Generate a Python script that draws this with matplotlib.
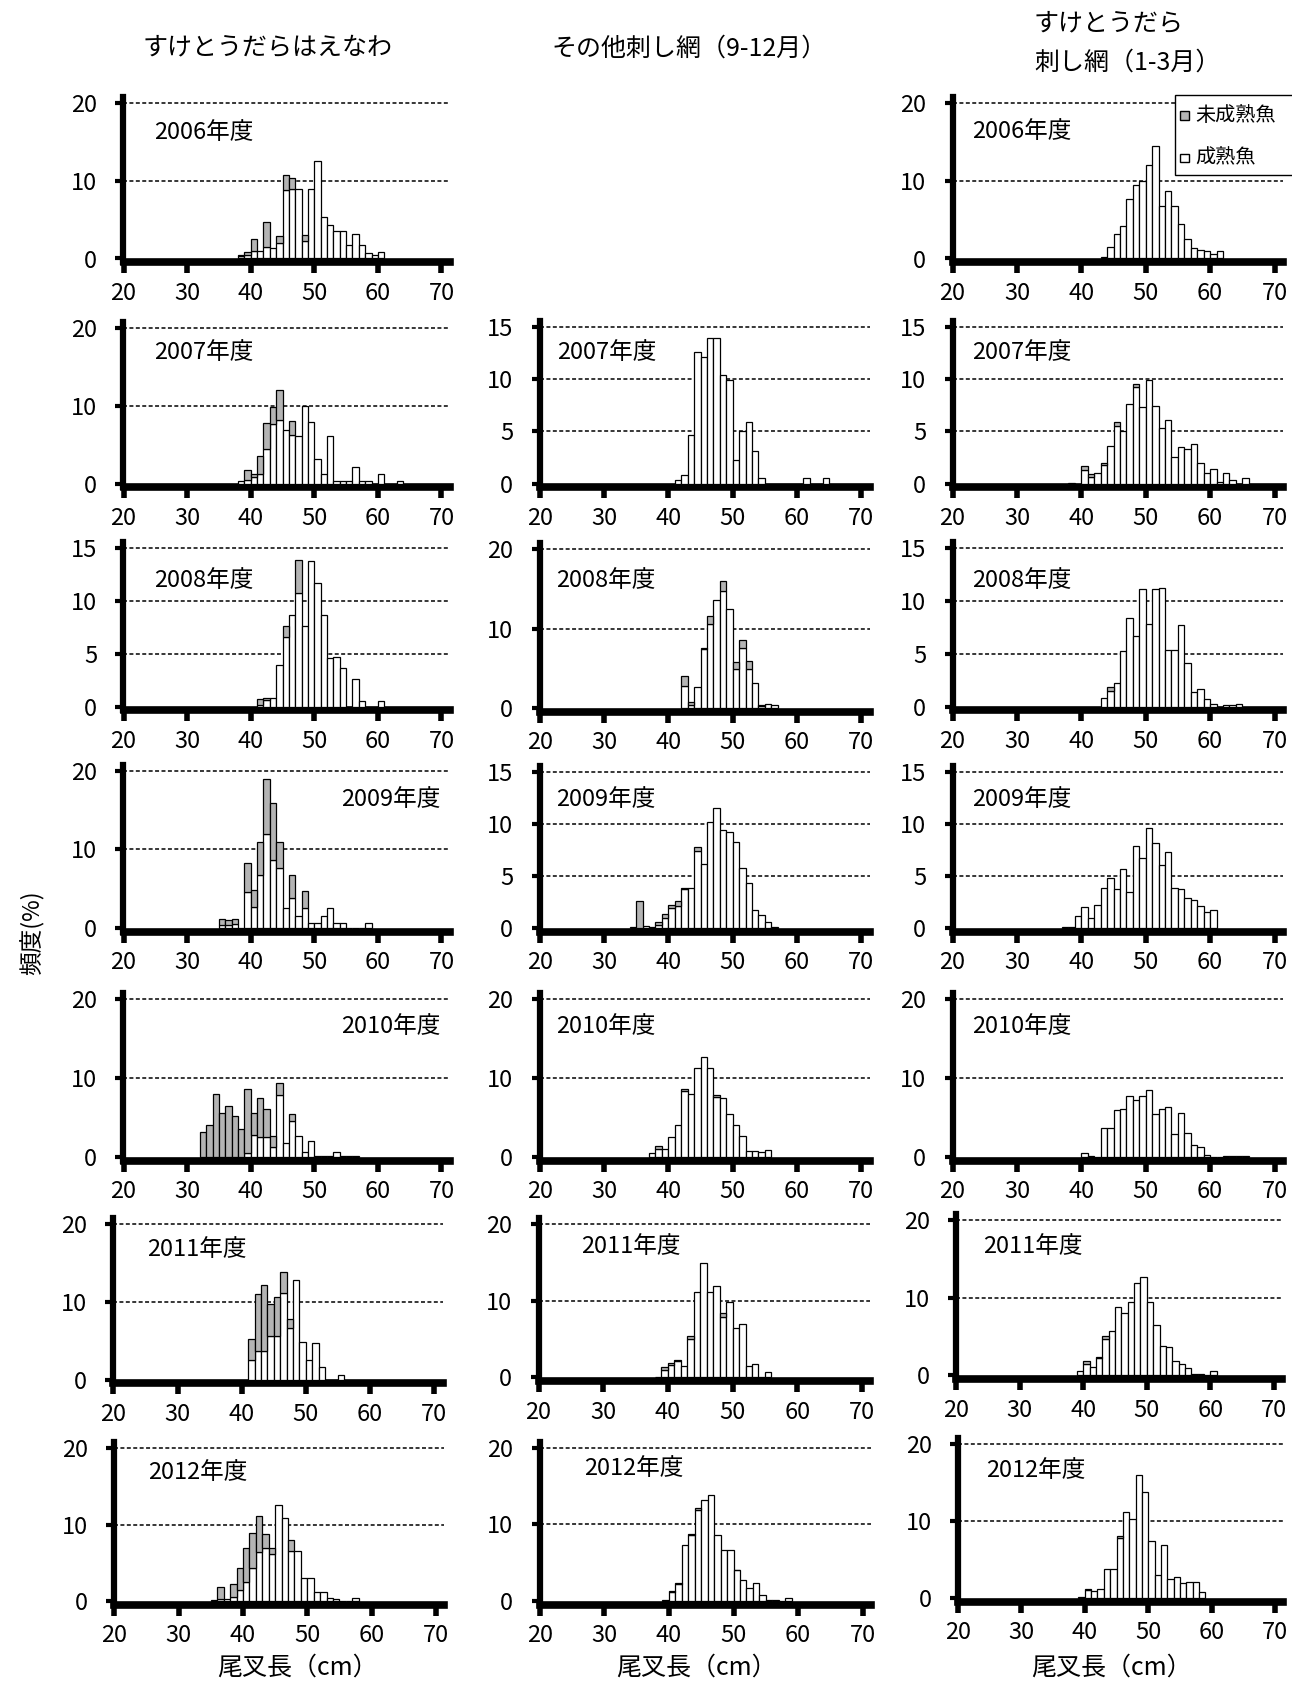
import numpy as np
import matplotlib
matplotlib.use('Agg')
import matplotlib.pyplot as plt
from matplotlib.patches import Rectangle

plt.rcParams['font.family'] = ['Noto Sans CJK JP', 'DejaVu Sans']

# ---------------- DATA (frequency %, 1-cm bins; first bin = *_start) ----------------
x_ticks = [20, 30, 40, 50, 60, 70]
col_titles = ['すけとうだらはえなわ', 'その他刺し網（9-12月）', 'すけとうだら', '刺し網（1-3月）']
x_label = '尾叉長（cm）'
y_label = '頻度(%)'
legend_labels = ['未成熟魚', '成熟魚']

# Column 1: すけとうだらはえなわ
hn2006_start = 38
hn2006_mature = [0.3, 0.5, 1.0, 1.0, 1.5, 1.3, 2.0, 8.8, 8.9, 8.9, 2.3, 8.9, 12.6, 5.3, 4.3, 3.6, 3.6, 1.7, 3.2, 1.7, 0.7, 0.4, 0.9]
hn2006_immature = [0.2, 0.3, 1.5, 0.0, 3.2, 0.0, 0.9, 1.9, 1.5, 0.0, 0.7]

hn2007_start = 38
hn2007_mature = [0.3, 0.5, 0.8, 1.2, 4.5, 7.7, 8.2, 6.9, 6.2, 6.1, 10.0, 7.9, 3.2, 1.3, 6.1, 0.3, 0.3, 0.3, 2.2, 0.3, 0.3, 0.0, 1.3, 0.0, 0.0, 0.4]
hn2007_immature = [0.0, 1.3, 0.5, 2.3, 3.3, 2.1, 3.8, 0.0, 1.8]

hn2008_start = 41
hn2008_mature = [0.2, 0.6, 0.85, 3.9, 6.6, 8.7, 10.8, 7.6, 13.8, 11.7, 8.7, 4.6, 4.7, 3.7, 0.0, 2.6, 0.5, 0.0, 0.0, 0.5]
hn2008_immature = [0.5, 0.2, 0.0, 0.0, 1.0, 0.0, 3.1]

hn2009_start = 35
hn2009_mature = [0.4, 0.4, 0.5, 0.0, 4.6, 2.7, 6.7, 11.9, 8.7, 7.7, 2.6, 3.8, 1.6, 2.6, 0.65, 0.65, 1.6, 2.6, 0.65, 0.65, 0.0, 0.0, 0.0, 0.65]
hn2009_immature = [0.8, 0.6, 0.7, 0.0, 3.7, 2.2, 4.2, 7.1, 7.2, 3.2, 0.0, 3.0, 0.0, 2.1]

hn2010_start = 32
hn2010_mature = [0.0, 0.0, 0.0, 0.0, 0.0, 0.0, 0.0, 0.5, 2.8, 2.5, 2.5, 1.3, 7.8, 1.8, 4.6, 2.6, 0.6, 2.0, 0.1, 0.1, 0.1, 0.6, 0.1, 0.1, 0.1]
hn2010_immature = [3.2, 4.0, 8.0, 5.6, 6.4, 5.2, 3.6, 8.1, 2.8, 4.9, 3.6, 1.3, 1.6, 0.0, 0.8]

hn2011_start = 41
hn2011_mature = [2.5, 3.7, 3.7, 5.6, 5.6, 11.1, 6.7, 12.8, 4.8, 2.5, 4.7, 1.6, 0.0, 0.0, 0.6]
hn2011_immature = [2.7, 7.3, 8.5, 4.2, 5.1, 2.7, 1.1]

hn2012_start = 35
hn2012_mature = [0.2, 0.3, 0.3, 0.5, 1.5, 2.5, 4.3, 6.4, 7.0, 6.2, 12.6, 10.8, 6.6, 6.5, 3.0, 3.0, 1.2, 1.2, 0.4, 0.3, 0.0, 0.0, 0.4]
hn2012_immature = [0.0, 1.5, 0.0, 1.8, 2.8, 4.4, 4.6, 4.7, 1.8, 0.8, 0.0, 0.0, 1.4]

# Column 2: その他刺し網（9-12月）
om2007_start = 41
om2007_mature = [0.4, 0.8, 4.7, 12.6, 12.1, 13.9, 13.9, 10.4, 9.9, 2.3, 5.0, 5.9, 3.1, 0.5, 0.0, 0.0, 0.0, 0.0, 0.0, 0.0, 0.5, 0.0, 0.0, 0.5]
om2007_immature = []

om2008_start = 42
om2008_mature = [2.8, 0.3, 2.6, 7.4, 10.6, 13.6, 14.7, 12.5, 4.9, 7.6, 4.9, 3.1, 0.2, 0.5, 0.3]
om2008_immature = [1.2, 0.4, 0.0, 0.2, 1.0, 0.0, 1.3, 0.0, 0.9, 1.0, 1.0, 0.0, 0.2]

om2009_start = 34
om2009_mature = [0.15, 0.0, 0.2, 0.15, 0.3, 1.0, 1.9, 2.1, 3.8, 3.9, 7.4, 6.2, 10.2, 11.5, 9.4, 9.2, 8.3, 5.8, 4.3, 1.7, 1.3, 0.6, 0.1]
om2009_immature = [0.0, 2.6, 0.0, 0.0, 0.3, 0.4, 0.3, 0.5, 0.1, 0.0, 0.4]

om2010_start = 37
om2010_mature = [0.5, 1.0, 1.05, 2.5, 4.1, 8.4, 7.9, 11.2, 12.6, 11.3, 7.6, 7.4, 5.4, 4.1, 2.7, 0.8, 0.8, 0.6, 0.85]
om2010_immature = [0.0, 0.35, 0.0, 0.0, 0.0, 0.2, 0.0, 0.0, 0.0, 0.0, 0.2]

om2011_start = 38
om2011_mature = [0.1, 1.0, 1.6, 2.1, 1.5, 5.0, 11.2, 15.0, 11.2, 11.9, 7.9, 9.9, 6.4, 7.0, 1.5, 1.8, 0.1, 0.7]
om2011_immature = [0.0, 0.3, 0.3, 0.2, 0.0, 0.4, 0.0, 0.0, 0.0, 0.0, 0.5]

om2012_start = 39
om2012_mature = [0.1, 1.2, 2.2, 7.3, 8.6, 11.9, 13.2, 13.8, 8.6, 6.7, 6.7, 4.0, 2.7, 1.7, 2.3, 0.8, 0.1, 0.1, 0.0, 0.35]
om2012_immature = [0.0, 0.15, 0.2, 0.0, 0.2, 0.2, 0.0, 0.0, 0.0, 0.0, 0.0, 0.1]

# Column 3: すけとうだら刺し網（1-3月）
sg2006_start = 43
sg2006_mature = [0.2, 1.5, 3.2, 4.2, 7.7, 9.5, 10.0, 12.1, 14.5, 6.8, 8.7, 6.7, 4.4, 2.5, 1.3, 1.1, 1.0, 0.6, 1.0]
sg2006_immature = []

sg2007_start = 38
sg2007_mature = [0.1, 0.0, 1.3, 0.6, 1.0, 1.8, 3.6, 5.5, 5.0, 7.6, 9.2, 7.3, 9.9, 7.4, 5.3, 6.1, 2.6, 3.5, 3.3, 3.8, 2.0, 1.0, 1.4, 0.2, 1.0, 0.4, 0.0, 0.55]
sg2007_immature = [0.0, 0.0, 0.4, 0.3, 0.0, 0.2, 0.0, 0.4, 0.0, 0.0, 0.3]

sg2008_start = 43
sg2008_mature = [0.8, 1.5, 2.2, 5.3, 8.4, 6.7, 11.1, 7.8, 11.1, 11.2, 5.4, 5.4, 7.7, 4.1, 1.4, 1.7, 0.7, 0.25, 0.0, 0.15, 0.15, 0.3]
sg2008_immature = [0.0, 0.4]

sg2009_start = 37
sg2009_mature = [0.1, 0.1, 1.2, 2.0, 1.0, 2.2, 3.9, 4.8, 3.8, 5.7, 3.5, 7.9, 6.7, 9.6, 8.2, 6.1, 7.3, 3.9, 3.8, 2.9, 2.7, 2.1, 1.6, 1.7]
sg2009_immature = []

sg2010_start = 40
sg2010_mature = [0.5, 0.1, 0.0, 3.7, 3.7, 5.9, 6.1, 7.7, 7.2, 7.7, 8.5, 5.4, 6.1, 6.3, 2.9, 5.6, 3.0, 1.5, 1.3, 0.3, 0.0, 0.0, 0.1, 0.1, 0.1, 0.15]
sg2010_immature = []

sg2011_start = 39
sg2011_mature = [0.5, 1.5, 1.1, 2.2, 4.7, 5.7, 8.8, 8.0, 9.5, 11.9, 12.6, 9.4, 6.5, 3.8, 3.6, 1.9, 1.4, 1.0, 0.2, 0.2, 0.0, 0.5]
sg2011_immature = [0.0, 0.3, 0.0, 0.2, 0.3]

sg2012_start = 39
sg2012_mature = [0.15, 1.0, 0.9, 1.1, 3.8, 3.8, 7.7, 11.1, 10.2, 15.9, 13.7, 7.4, 3.0, 6.9, 2.4, 2.7, 1.9, 2.0, 2.0, 0.8]
sg2012_immature = [0.0, 0.1, 0.0, 0.0, 0.0, 0.0, 0.3]

# ---------------- LAYOUT ----------------
W, H = 1292, 1685
fig = plt.figure(figsize=(W / 100, H / 100), dpi=100)
fig.patch.set_facecolor('white')

GRAY = '#b4b4b4'
TICK_FS = 17
YEAR_FS = 17
T20, T15 = [0, 10, 20], [0, 5, 10, 15]

# (start, mature, immature, label, x20, x70, y0, ytop, yticks, (lx, ly, ha))
panels = [
    (hn2006_start, hn2006_mature, hn2006_immature, '2006年度', 123.5, 441.5, 262.3, 103.2, T20, (153.7, 132.2, 'left')),
    (hn2007_start, hn2007_mature, hn2007_immature, '2007年度', 123.5, 441.5, 487.5, 328.0, T20, (153.7, 352.6, 'left')),
    (hn2008_start, hn2008_mature, hn2008_immature, '2008年度', 123.5, 441.5, 710.5, 548.2, T15, (153.7, 580.4, 'left')),
    (hn2009_start, hn2009_mature, hn2009_immature, '2009年度', 123.5, 441.5, 932.0, 770.7, T20, (440.7, 799.7, 'right')),
    (hn2010_start, hn2010_mature, hn2010_immature, '2010年度', 123.5, 441.5, 1160.9, 998.6, T20, (440.7, 1026.5, 'right')),
    (hn2011_start, hn2011_mature, hn2011_immature, '2011年度', 113.3, 434.3, 1383.4, 1224.3, T20, (147.3, 1249.0, 'left')),
    (hn2012_start, hn2012_mature, hn2012_immature, '2012年度', 114.3, 436.0, 1605.0, 1447.9, T20, (148.3, 1472.6, 'left')),

    (om2007_start, om2007_mature, om2007_immature, '2007年度', 539.7, 861.3, 487.5, 326.8, T15, (556.8, 352.6, 'left')),
    (om2008_start, om2008_mature, om2008_immature, '2008年度', 539.7, 861.3, 711.6, 549.3, T20, (555.7, 580.4, 'left')),
    (om2009_start, om2009_mature, om2009_immature, '2009年度', 539.7, 861.3, 932.0, 771.8, T15, (555.7, 799.7, 'left')),
    (om2010_start, om2010_mature, om2010_immature, '2010年度', 539.7, 861.3, 1160.9, 998.6, T20, (555.7, 1026.5, 'left')),
    (om2011_start, om2011_mature, om2011_immature, '2011年度', 538.5, 862.0, 1381.2, 1224.3, T20, (581.5, 1246.9, 'left')),
    (om2012_start, om2012_mature, om2012_immature, '2012年度', 539.7, 862.8, 1604.8, 1447.9, T20, (583.7, 1468.3, 'left')),

    (sg2006_start, sg2006_mature, sg2006_immature, '2006年度', 952.5, 1274.5, 262.3, 103.2, T20, (971.7, 131.1, 'left')),
    (sg2007_start, sg2007_mature, sg2007_immature, '2007年度', 952.5, 1274.5, 487.5, 326.8, T15, (971.7, 352.6, 'left')),
    (sg2008_start, sg2008_mature, sg2008_immature, '2008年度', 952.5, 1274.5, 710.5, 548.2, T15, (971.7, 580.4, 'left')),
    (sg2009_start, sg2009_mature, sg2009_immature, '2009年度', 952.5, 1274.5, 932.0, 771.8, T15, (971.7, 799.7, 'left')),
    (sg2010_start, sg2010_mature, sg2010_immature, '2010年度', 952.5, 1274.5, 1160.9, 998.6, T20, (971.7, 1026.5, 'left')),
    (sg2011_start, sg2011_mature, sg2011_immature, '2011年度', 956.0, 1274.0, 1379.1, 1220.0, T20, (983.5, 1246.9, 'left')),
    (sg2012_start, sg2012_mature, sg2012_immature, '2012年度', 958.0, 1275.0, 1601.6, 1443.6, T20, (985.7, 1470.5, 'left')),
]


def ftext(x, y, s, **kw):
    fig.text(x / W, 1 - y / H, s, **kw)


def add_panel(start, mature, immature, label, x20, x70, y0, ytop, yticks, lab):
    ymax = yticks[-1]
    hl = 3.8                       # half thickness of the bottom axis line (px)
    xr = 71.3
    sx = (x70 - x20) / 50.0
    sy = (y0 - hl - ytop) / ymax
    top_px = ytop - 6
    ax = fig.add_axes([x20 / W, 1 - y0 / H, (xr - 20) * sx / W, (y0 - top_px) / H])
    ax.set_xlim(20, xr)
    ax.set_ylim(-hl / sy, ymax + 6 / sy)

    m = np.asarray(mature, dtype=float)
    xm = start + np.arange(len(m))
    ax.bar(xm, m, width=1.0, align='edge', color='white', edgecolor='black',
           linewidth=0.9, zorder=3)
    if len(immature):
        im = np.asarray(immature, dtype=float)
        xi = start + np.arange(len(im))
        base = m[:len(im)]
        k = im > 0
        ax.bar(xi[k], im[k], bottom=base[k], width=1.0, align='edge', color=GRAY,
               edgecolor='black', linewidth=0.9, zorder=3)

    for v in yticks[1:]:
        ax.axhline(v, color='black', lw=1.1, ls=(0, (2.6, 1.6)), zorder=1)

    for s in ['top', 'right']:
        ax.spines[s].set_visible(False)
    ax.spines['left'].set_linewidth(4.5)
    ax.spines['bottom'].set_linewidth(5.5)
    ax.spines['bottom'].set_capstyle('projecting')
    ax.spines['left'].set_capstyle('projecting')

    ax.set_xticks(x_ticks)
    ax.set_xticklabels([str(t) for t in x_ticks])
    ax.set_yticks(yticks)
    ax.set_yticklabels([str(t) for t in yticks])
    ax.tick_params(axis='x', direction='out', length=8, width=4, pad=6,
                   labelsize=TICK_FS, colors='black')
    ax.tick_params(axis='y', direction='out', length=6, width=3, pad=13,
                   labelsize=TICK_FS, colors='black')
    ax.set_facecolor('none')

    lx, ly, ha = lab
    ftext(lx, ly, label, ha=ha, va='center', fontsize=YEAR_FS)
    return ax


for p in panels:
    add_panel(*p)

# Column titles
ftext(267.6, 48.4, col_titles[0], ha='center', va='center', fontsize=18)
ftext(689.5, 48.4, col_titles[1], ha='center', va='center', fontsize=18)
ftext(1034.0, 23.6, col_titles[2], ha='left', va='center', fontsize=18)
ftext(1034.0, 62.3, col_titles[3], ha='left', va='center', fontsize=18)

# Axis labels
for xc in (297.2, 696.0, 1111.5):
    ftext(xc, 1668.0, x_label, ha='center', va='center', fontsize=18)
ftext(32.0, 933.0, y_label, ha='center', va='center', rotation=90, fontsize=17)

# Legend (box runs off the right edge, as in the original)
lx0, ly0, lx1, ly1 = 1175.0, 94.6, 1310.0, 175.2
fig.patches.append(Rectangle((lx0 / W, 1 - ly1 / H), (lx1 - lx0) / W, (ly1 - ly0) / H,
                             transform=fig.transFigure, facecolor='white',
                             edgecolor='black', linewidth=1.0, zorder=5))
sq = 8.6
for (yy, col, txt) in [(115.5, GRAY, legend_labels[0]), (158.0, 'white', legend_labels[1])]:
    fig.patches.append(Rectangle(((1184.6 - sq / 2) / W, 1 - (yy + sq / 2) / H), sq / W, sq / H,
                                 transform=fig.transFigure, facecolor=col,
                                 edgecolor='black', linewidth=1.0, zorder=6))
    ftext(1195.5, yy, txt, ha='left', va='center', fontsize=14.5, zorder=7)

fig.savefig('out.png', dpi=100)
